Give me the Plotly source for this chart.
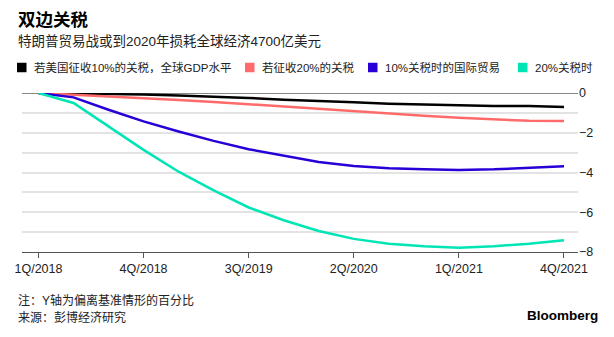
import plotly.graph_objects as go

quarters = ["1Q/2018","2Q/2018","3Q/2018","4Q/2018","1Q/2019","2Q/2019","3Q/2019","4Q/2019",
            "1Q/2020","2Q/2020","3Q/2020","4Q/2020","1Q/2021","2Q/2021","3Q/2021","4Q/2021"]
tick_labels = ["1Q/2018","4Q/2018","3Q/2019","2Q/2020","1Q/2021","4Q/2021"]

gdp10 = [0, -0.02, -0.05, -0.08, -0.12, -0.17, -0.25, -0.34, -0.39, -0.47, -0.54, -0.59, -0.62, -0.66, -0.66, -0.71]
gdp20 = [0, -0.08, -0.17, -0.25, -0.35, -0.45, -0.57, -0.67, -0.81, -0.93, -1.04, -1.14, -1.25, -1.33, -1.40, -1.41]
trade10 = [0, -0.22, -0.84, -1.43, -1.94, -2.41, -2.83, -3.16, -3.47, -3.67, -3.79, -3.84, -3.87, -3.84, -3.77, -3.69]
trade20 = [0, -0.50, -1.68, -2.86, -3.96, -4.90, -5.76, -6.40, -6.94, -7.34, -7.58, -7.71, -7.78, -7.71, -7.58, -7.41]

names = ["若美国征收10%的关税，全球GDP水平", "若征收20%的关税", "10%关税时的国际贸易", "20%关税时"]
colors = ["#000000", "#ff6b6b", "#2800d7", "#00e5b5"]
series = [gdp10, gdp20, trade10, trade20]

FONT = "Liberation Sans, Noto Sans CJK SC, sans-serif"

W, H = 614, 337
ML, MR, MT, MB = 22, 36, 93, 85
PW, PH = W - ML - MR, H - MT - MB

def px(x):
    return (x - ML) / PW

def py(y):
    return (H - MB - y) / PH

fig = go.Figure()
xs = list(range(len(quarters)))
for name, col, ys in zip(names, colors, series):
    fig.add_trace(go.Scatter(x=xs, y=ys, mode="lines", name=name, line=dict(color=col, width=2.5),
                             showlegend=False, hoverinfo="skip"))

tickvals = [quarters.index(t) for t in tick_labels]

fig.update_layout(
    width=W, height=H,
    margin=dict(l=ML, r=MR, t=MT, b=MB),
    paper_bgcolor="white", plot_bgcolor="white",
    font=dict(family=FONT, size=12, color="#222"),
    xaxis=dict(range=[-0.47, 15.4], tickvals=tickvals, ticktext=tick_labels,
               showgrid=False, zeroline=False, showline=True, linecolor="#555", linewidth=1,
               ticks="outside", ticklen=5, tickcolor="#555", tickfont=dict(size=12.5, color="#222")),
    yaxis=dict(range=[-8, 0], side="right", tickvals=[0, -2, -4, -6, -8],
               showgrid=True, gridcolor="#e3e3e3", gridwidth=1.5,
               minor=dict(dtick=1, showgrid=True, gridcolor="#e3e3e3", gridwidth=1.5),
               zeroline=True, zerolinecolor="#888", zerolinewidth=1.2,
               showline=False, ticks="", tickfont=dict(size=12.5, color="#222")),
    showlegend=False,
)

# manual legend (square swatch + label), positions in pixels
legend_square_x = [17, 245, 368, 518]
legend_y = 67.5
for name, col, sx in zip(names, colors, legend_square_x):
    fig.add_shape(type="rect", xref="paper", yref="paper",
                  x0=px(sx), x1=px(sx + 9.5), y0=py(legend_y + 4.75), y1=py(legend_y - 4.75),
                  fillcolor=col, line=dict(width=0))
    fig.add_annotation(xref="paper", yref="paper", x=px(sx + 15), y=py(legend_y),
                       xanchor="left", yanchor="middle", showarrow=False, text=name,
                       font=dict(size=11.5, color="#222"))

annos = [
    dict(text="<b>双边关税</b>", x=px(16), y=py(20), font=dict(size=17.5, color="#000")),
    dict(text="特朗普贸易战或到2020年损耗全球经济4700亿美元", x=px(16), y=py(41), font=dict(size=13.5, color="#222")),
    dict(text="注：Y轴为偏离基准情形的百分比", x=px(16), y=py(300), font=dict(size=12, color="#222")),
    dict(text="来源：彭博经济研究", x=px(16), y=py(317), font=dict(size=12, color="#222")),
]
for a in annos:
    fig.add_annotation(xref="paper", yref="paper", xanchor="left", yanchor="middle",
                       showarrow=False, **a)
fig.add_annotation(xref="paper", yref="paper", x=px(600), y=py(315), xanchor="right", yanchor="middle",
                   showarrow=False, text="<b>Bloomberg</b>",
                   font=dict(size=13.5, color="#000", family="Liberation Sans, Arial, sans-serif"))

fig.write_html("out.html")
